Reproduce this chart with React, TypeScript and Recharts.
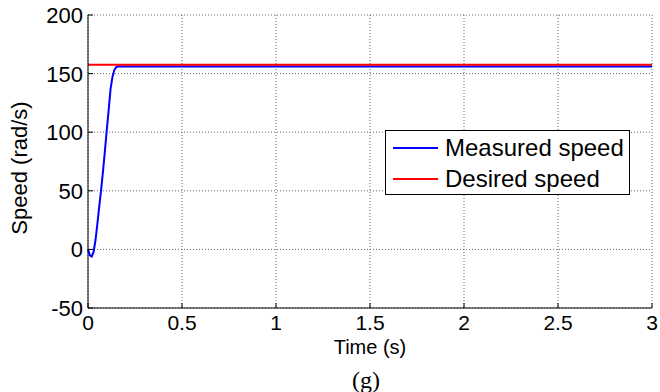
import { LineChart, Line, XAxis, YAxis, CartesianGrid } from 'recharts'

const timeTicks = [0, 0.5, 1, 1.5, 2, 2.5, 3]
const speedTicks = [-50, 0, 50, 100, 150, 200]

const measuredTime = [0, 0.01, 0.02, 0.03, 0.04, 0.05, 0.06, 0.07, 0.08, 0.09, 0.1, 0.11, 0.12, 0.13, 0.14, 0.15, 0.16, 0.2, 0.5, 1, 1.5, 2, 2.5, 3]
const measuredSpeed = [0, -5, -6, -2, 8, 22, 37, 51, 67, 84, 102, 119, 137, 147, 153, 155.5, 156, 156, 156, 156, 156, 156, 156, 156]

const desiredTime = [0, 3]
const desiredSpeed = [157.5, 157.5]

const seriesNames = ['Measured speed', 'Desired speed']
const seriesColors = ['#0000ff', '#ff0000']

const measured = measuredTime.map((t, i) => ({ t, v: measuredSpeed[i] }))
const desired = desiredTime.map((t, i) => ({ t, v: desiredSpeed[i] }))

const FONT = 'Liberation Sans, Arial, sans-serif'

function BottomTick({ x, y, payload }: any) {
  return (
    <g>
      <line x1={x} x2={x} y1={y} y2={y - 5} stroke="#000" />
      <text x={x} y={y + 22} textAnchor="middle" fontSize={21} fontFamily={FONT} fill="#000">
        {String(payload.value)}
      </text>
    </g>
  )
}

function LeftTick({ x, y, payload }: any) {
  return (
    <g>
      <line x1={x} x2={x + 5} y1={y} y2={y} stroke="#000" />
      <text x={x - 5} y={y + 8} textAnchor="end" fontSize={22} fontFamily={FONT} fill="#000">
        {String(payload.value)}
      </text>
    </g>
  )
}

function TopTick({ x, y }: any) {
  return <line x1={x} x2={x} y1={y} y2={y + 5} stroke="#000" />
}

function RightTick({ x, y }: any) {
  return <line x1={x} x2={x - 5} y1={y} y2={y} stroke="#000" />
}

function LegendBox() {
  return (
    <div
      style={{
        position: 'absolute',
        left: 385,
        top: 130,
        width: 243,
        height: 63,
        border: '1px solid #000',
        background: '#fff',
        fontFamily: FONT,
        fontSize: 24,
        color: '#000',
      }}
    >
      {seriesNames.map((name, i) => (
        <div key={name} style={{ display: 'flex', alignItems: 'center', height: 31, marginTop: i === 0 ? 1 : 0 }}>
          <svg width={59} height={10} style={{ flex: 'none' }}>
            <line x1={7} x2={52} y1={5} y2={5} stroke={seriesColors[i]} strokeWidth={2} />
          </svg>
          <span style={{ lineHeight: '31px' }}>{name}</span>
        </div>
      ))}
    </div>
  )
}

export default function App() {
  return (
    <div style={{ position: 'absolute', left: 0, top: 0, width: 660, height: 392, background: '#fff' }}>
      <LineChart width={660} height={392} margin={{ top: 15, right: 8, bottom: 0, left: 0 }}>
        <CartesianGrid stroke="#666" strokeDasharray="1 2" />
        <XAxis
          type="number"
          dataKey="t"
          domain={[0, 3]}
          ticks={timeTicks}
          allowDuplicatedCategory={false}
          height={84}
          tickSize={0}
          tickMargin={0}
          tickLine={false}
          stroke="#000"
          tick={<BottomTick />}
          interval={0}
        />
        <XAxis
          xAxisId="top"
          orientation="top"
          type="number"
          domain={[0, 3]}
          ticks={timeTicks}
          height={0}
          tickSize={0}
          tickMargin={0}
          tickLine={false}
          stroke="#000"
          tick={<TopTick />}
          interval={0}
        />
        <YAxis
          type="number"
          domain={[-50, 200]}
          ticks={speedTicks}
          width={88}
          tickSize={0}
          tickMargin={0}
          tickLine={false}
          stroke="#000"
          tick={<LeftTick />}
          interval={0}
        />
        <YAxis
          yAxisId="right"
          orientation="right"
          type="number"
          domain={[-50, 200]}
          ticks={speedTicks}
          width={0}
          tickSize={0}
          tickMargin={0}
          tickLine={false}
          stroke="#000"
          tick={<RightTick />}
          interval={0}
        />
        <Line data={measured} dataKey="v" name={seriesNames[0]} stroke={seriesColors[0]} strokeWidth={2} dot={false} isAnimationActive={false} type="linear" />
        <Line data={desired} dataKey="v" name={seriesNames[1]} stroke={seriesColors[1]} strokeWidth={2} dot={false} isAnimationActive={false} type="linear" />
        <text x={27} y={168} transform="rotate(-90 27 168)" textAnchor="middle" fontSize={22} fontFamily={FONT} fill="#000">
          Speed (rad/s)
        </text>
        <text x={370} y={354} textAnchor="middle" fontSize={20} fontFamily={FONT} fill="#000">
          Time (s)
        </text>
        <text x={366} y={388} textAnchor="middle" fontSize={24} fontFamily="Liberation Serif, Times New Roman, serif" fill="#000">
          (g)
        </text>
      </LineChart>
      <LegendBox />
    </div>
  )
}
